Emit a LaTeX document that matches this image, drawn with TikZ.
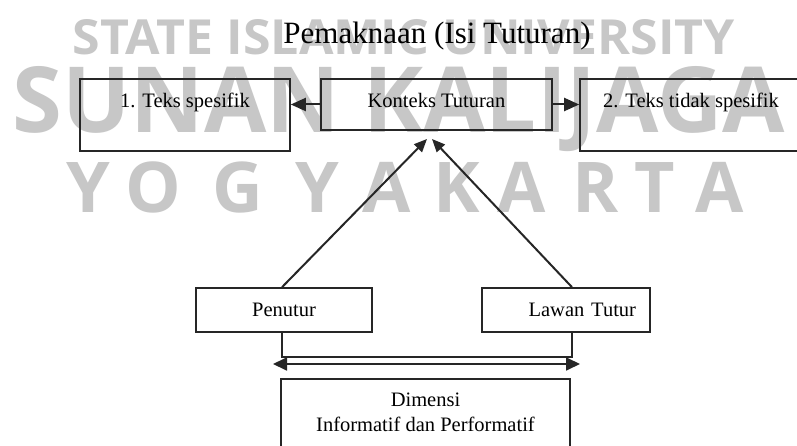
\documentclass[tikz,border=0pt]{standalone}
\usepackage{graphicx}
\usepackage{fontspec}
\setmainfont{Liberation Serif}
\newfontfamily\wmfont{Open Sans}
\usetikzlibrary{arrows.meta,positioning,calc}
\definecolor{wmgray}{gray}{0.78}
\definecolor{linegray}{gray}{0.15}

\begin{document}
\begin{tikzpicture}[x=1pt,y=-1pt,
  wm/.style={text=wmgray,font=\wmfont\bfseries},
  txt/.style={font=\fontsize{20.5}{25}\selectfont},
  kotak/.style={draw=linegray,line width=1.6pt,txt},
  atas/.style={inner ysep=6pt,text height=23pt},
  panah/.style={draw=linegray,line width=2pt,-{Triangle[length=15pt,width=13pt]}},
  garis/.style={draw=linegray,line width=1.8pt}]
\tikzstyle{every node}+=[inner sep=0pt]
\clip (0,0) rectangle (797,446);
\fill[white] (0,0) rectangle (797,446);
\node[wm,anchor=base] (wm1) at (404,55) {\resizebox{662pt}{35pt}{STATE ISLAMIC UNIVERSITY}};
\node[wm,anchor=base] (wm2) at (399,133) {\resizebox{772pt}{66pt}{SUNAN KALIJAGA}};
\foreach \h/\xx in {Y/88,O/153,G/238,Y/317,A/387,K/457,A/522,R/596,T/655,A/720}
  \node[wm,font=\wmfont\bfseries\fontsize{70}{70}\selectfont,anchor=base] (wm3-\xx) at (\xx,213) {\h};
\node[font=\fontsize{31}{36}\selectfont,anchor=base] (judul) at (437,44) {Pemaknaan (Isi Tuturan)};
\node[kotak,atas,text depth=37pt,minimum width=210pt] (teks1) at (185,115) {1. Teks spesifik};
\node[kotak,atas,text depth=16pt,minimum width=231pt] (konteks) at (436.5,104.5) {Konteks Tuturan};
\node[kotak,atas,text depth=37pt,minimum width=222pt] (teks2) at (691,115) {2. Teks tidak spesifik};
\node[kotak,minimum width=176pt,minimum height=44pt] (penutur) at (284,310) {Penutur};
\node[kotak,minimum height=44pt,inner xsep=14pt,text width=140pt,align=right] (lawan) at (566,310) {Lawan Tutur};
\node[kotak,anchor=north,minimum width=289pt,inner ysep=14pt,text depth=28pt,align=center] (dimensi) at (425.5,378) {Dimensi\\Informatif dan Performatif};
\draw[panah] (konteks.west) -- (konteks.west -| teks1.east);
\draw[panah] (konteks.east) -- (konteks.east -| teks2.west);
\coordinate (ujungA) at (427,139);
\coordinate (ujungB) at (432,139);
\draw[panah,-{Triangle[length=13pt,width=11pt]}] ([xshift=-2pt]penutur.north) -- (ujungA);
\draw[panah,-{Triangle[length=13pt,width=11pt]}] ([xshift=6pt]lawan.north) -- (ujungB);
\draw[garis] ([xshift=-2pt]penutur.south) -- ++(0,24) -| ([xshift=6pt]lawan.south);
\coordinate (kiri) at (273,364);
\coordinate (kanan) at (580,364);
\draw[garis,{Triangle[length=14pt,width=13pt]}-{Triangle[length=14pt,width=13pt]}] (kiri) -- (kanan);
\end{tikzpicture}
\end{document}
